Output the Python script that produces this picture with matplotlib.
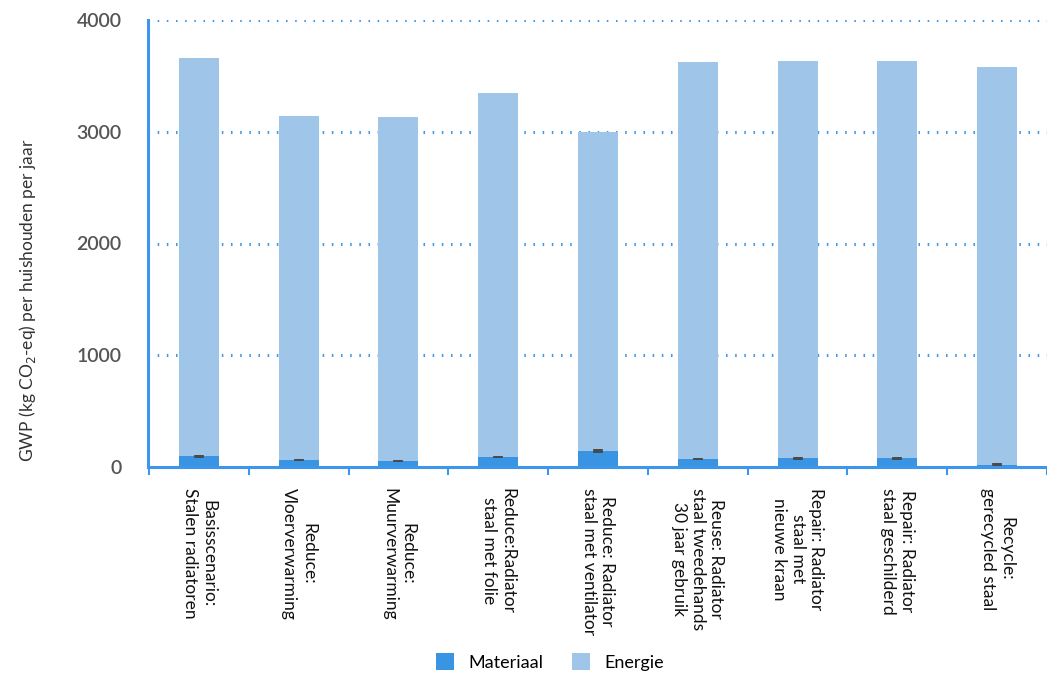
import matplotlib
matplotlib.use("Agg")
import matplotlib.pyplot as plt
from matplotlib.patches import Patch
import numpy as np

categories = [
    "Basisscenario:\nStalen radiatoren",
    "Reduce:\nVloerverwarming",
    "Reduce:\nMuurverwarming",
    "Reduce:Radiator\nstaal met folie",
    "Reduce: Radiator\nstaal met ventilator",
    "Reuse: Radiator\nstaal tweedehands\n30 jaar gebruik",
    "Repair: Radiator\nstaal met\nnieuwe kraan",
    "Repair: Radiator\nstaal geschilderd",
    "Recycle:\ngerecycled staal",
]
totals = [3660, 3141, 3132, 3347, 2998, 3624, 3633, 3633, 3580]
materiaal = [95, 60, 55, 90, 145, 72, 77, 77, 22]
materiaal_err = [12, 10, 10, 12, 20, 10, 10, 10, 10]
energie = [t - m for t, m in zip(totals, materiaal)]
yticks = [0, 1000, 2000, 3000, 4000]

c_mat = "#3a94e4"
c_en = "#9fc6e8"
c_axis = "#3d96ea"

plt.rcParams['font.family'] = ['Lato', 'DejaVu Sans']

fig = plt.figure(figsize=(10.47, 6.74), dpi=100)
ax = fig.add_axes([148/1047, 1-467/674, 1-148/1047, (467-20)/674])

x = np.arange(len(categories))
w = 0.4
ax.bar(x, materiaal, width=w, color=c_mat, zorder=3)
ax.bar(x, energie, width=w, bottom=materiaal, color=c_en, zorder=3)
ax.errorbar(x, materiaal, yerr=materiaal_err, fmt='none', ecolor='#4a4a4a',
            elinewidth=7, capsize=0, zorder=4)

ax.set_xlim(-0.51, 8.45)
ax.set_ylim(0, 4000)
ax.set_yticks(yticks)
ax.set_yticklabels([str(v) for v in yticks], fontsize=14, fontweight='semibold', color='#555555')
ax.tick_params(axis='y', length=0, pad=19)

ax.set_xticks(x)
ax.set_xticklabels(categories, rotation=270, fontsize=12.5, color='#111111',
                   va='top', ha='center', multialignment='center', linespacing=1.2)
ax.tick_params(axis='x', which='major', length=0, pad=15)
ax.set_xticks(np.arange(-0.5, len(categories), 1.0), minor=True)
ax.tick_params(axis='x', which='minor', length=6, width=1.5, color=c_axis)

for s in ['top', 'right']:
    ax.spines[s].set_visible(False)
for s in ['left', 'bottom']:
    ax.spines[s].set_color(c_axis)
    ax.spines[s].set_linewidth(2.2)
ax.spines['left'].set_zorder(5)
ax.spines['bottom'].set_zorder(5)

ax.yaxis.grid(True, linestyle=(0, (0.5, 2.5)), color=c_axis, linewidth=2.2, zorder=1)
ax.set_axisbelow(True)

ax.set_ylabel("GWP (kg CO$_2$-eq) per huishouden per jaar", fontsize=12.5, color='#333333')
ax.yaxis.set_label_coords(-(148-28)/899, (467-300)/447)
ax.yaxis.label.set_va('center')

handles = [Patch(facecolor=c_mat, label='Materiaal'), Patch(facecolor=c_en, label='Energie')]
fig.legend(handles=handles, loc='center', bbox_to_anchor=(550/1047, 12/674), ncol=2,
           frameon=False, fontsize=13, handlelength=1.0, handleheight=1.0,
           columnspacing=1.6, handletextpad=0.8)

fig.savefig("out.png", dpi=100)
